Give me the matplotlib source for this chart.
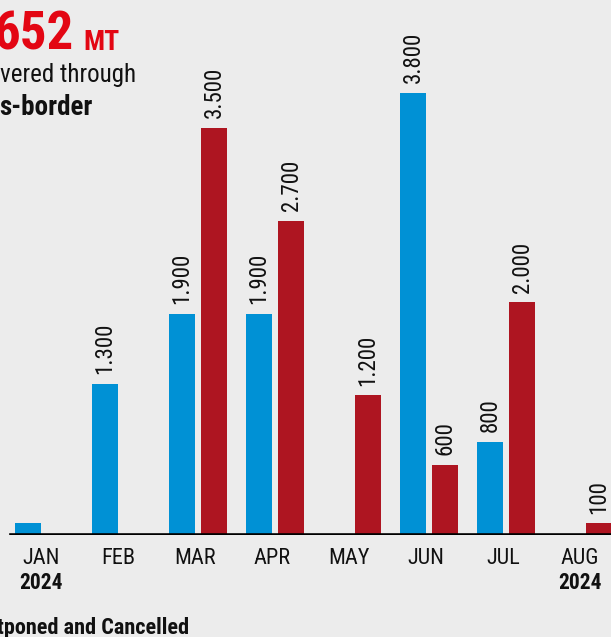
import matplotlib
matplotlib.use("Agg")
import matplotlib.pyplot as plt
from matplotlib import font_manager as fm
import numpy as np

months = ["JAN", "FEB", "MAR", "APR", "MAY", "JUN", "JUL", "AUG"]
year_labels = ["2024", "", "", "", "", "", "", "2024"]
delivered = [100, 1300, 1900, 1900, 0, 3800, 800, 0]
postponed = [0, 0, 3500, 2700, 1200, 600, 2000, 100]
delivered_labels = [None, "1.300", "1.900", "1.900", None, "3.800", "800", None]
postponed_labels = [None, None, "3.500", "2.700", "1.200", "600", "2.000", "100"]

names = {f.name for f in fm.fontManager.ttflist}
FONT = "Roboto Condensed" if "Roboto Condensed" in names else ("Roboto" if "Roboto" in names else "DejaVu Sans")
plt.rcParams['font.family'] = [FONT, 'DejaVu Sans']

BG = "#ececec"
BLUE = "#0091d5"
RED = "#ae1521"
TITLE_RED = "#e30613"

W, H = 611, 637
fig = plt.figure(figsize=(W / 100, H / 100), dpi=100, facecolor=BG)
ax = fig.add_axes([0, 102 / H, 1, 535 / H])
ax.set_facecolor(BG)

x = np.arange(len(months))
bw = 26 / 77
off = 16 / 77
for i in x:
    if delivered[i]:
        ax.bar(i - off, delivered[i], width=bw, color=BLUE, zorder=2)
        if delivered_labels[i]:
            ax.annotate(delivered_labels[i], (i - off, delivered[i]), xytext=(0, 7),
                        textcoords="offset points", rotation=90, ha="center", va="bottom",
                        fontsize=16.5, color="#111111")
    if postponed[i]:
        ax.bar(i + off, postponed[i], width=bw, color=RED, zorder=2)
        if postponed_labels[i]:
            ax.annotate(postponed_labels[i], (i + off, postponed[i]), xytext=(0, 7),
                        textcoords="offset points", rotation=90, ha="center", va="bottom",
                        fontsize=16.5, color="#111111")

ax.set_xlim(-44 / 77, (W - 44) / 77)
ax.set_ylim(0, 4600)
ax.axhline(0, xmin=11 / W, xmax=1, color="black", lw=2.6, zorder=3)
for s in ax.spines.values():
    s.set_visible(False)
ax.set_xticks([])
ax.set_yticks([])

def px(xp, yp):
    return xp / W, 1 - yp / H

# month labels
for i, m in enumerate(months):
    cx = 44 + 77 * i - 3
    fig.text(*px(cx, 558), m, ha="center", va="center", fontsize=16, color="#111111")
    if year_labels[i]:
        fig.text(*px(cx, 583), year_labels[i], ha="center", va="center", fontsize=15.5,
                 fontweight="bold", color="#111111")

# title (cropped in reference)
fig.text(*px(-7, 50), "652", ha="left", va="baseline", fontsize=38, fontweight="bold", color=TITLE_RED)
fig.text(*px(83, 50), "MT", ha="left", va="baseline", fontsize=20, fontweight="bold", color=TITLE_RED)
fig.text(*px(0, 82), "vered through", ha="left", va="baseline", fontsize=18, color="#111111")
fig.text(*px(-1, 115), "s-border", ha="left", va="baseline", fontsize=19.5, fontweight="bold", color="#111111")
fig.text(*px(-3, 634), "tponed and Cancelled", ha="left", va="baseline", fontsize=16,
         fontweight="bold", color="#111111")

fig.savefig("out.png", dpi=100, facecolor=BG)
